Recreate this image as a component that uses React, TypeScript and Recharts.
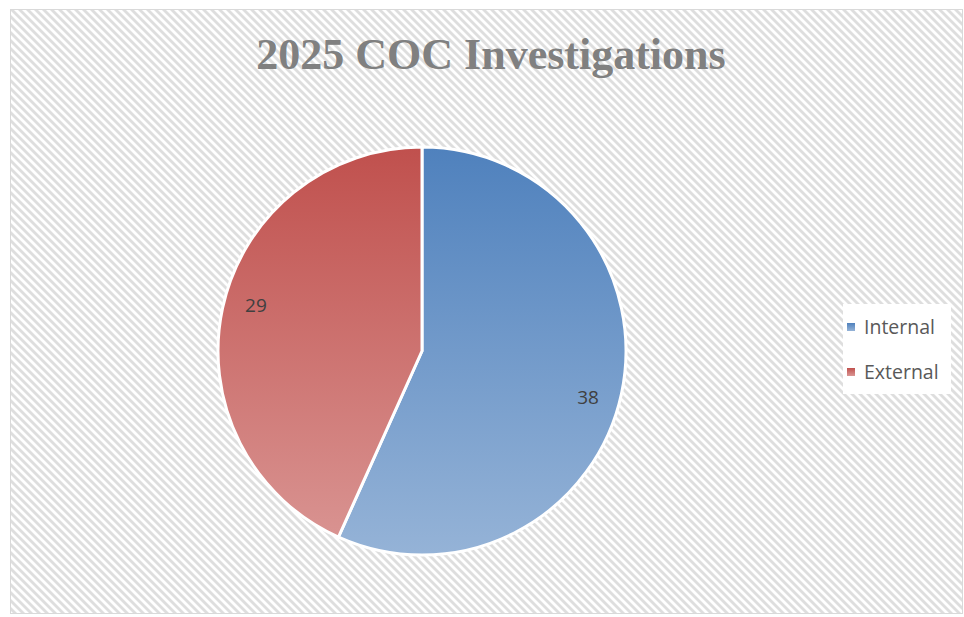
import React from "react";
import { PieChart, Pie, Cell, Legend } from "recharts";

const categories = ["Internal", "External"];
const values = [38, 29];
const topColors = ["#4F81BD", "#C0504D"];
const bottomColors = ["#95B3D7", "#DA9694"];
const title = "2025 COC Investigations";

const data = categories.map((name, i) => ({ name, value: values[i] }));

const RAD = Math.PI / 180;

const renderLabel = (props: any) => {
  const { cx, cy, midAngle, outerRadius, value } = props;
  const r = outerRadius * 0.845;
  const a = midAngle - 3.5;
  const x = cx + r * Math.cos(-a * RAD);
  const y = cy + r * Math.sin(-a * RAD);
  return (
    <text
      x={x}
      y={y}
      textAnchor="middle"
      dominantBaseline="central"
      fill="#404040"
      fontSize={19}
      fontFamily="'Open Sans', sans-serif"
    >
      {value}
    </text>
  );
};

const LegendContent = () => (
  <div
    style={{
      background: "#ffffff",
      width: 108,
      boxSizing: "border-box",
    }}
  >
    {categories.map((c, i) => (
      <div
        key={c}
        style={{
          display: "flex",
          alignItems: "center",
          height: 45,
          fontFamily: "'Open Sans', sans-serif",
          fontSize: 19.5,
          color: "#595959",
        }}
      >
        <span
          style={{
            display: "inline-block",
            width: 8,
            height: 8,
            marginLeft: 4,
            marginRight: 9,
            background: `linear-gradient(${topColors[i]}, ${bottomColors[i]})`,
          }}
        />
        {c}
      </div>
    ))}
  </div>
);

export default function App() {
  return (
    <div style={{ position: "absolute", left: 0, top: 0, width: 964, height: 617 }}>
      <svg width={964} height={617} style={{ position: "absolute", left: 0, top: 0 }}>
        <defs>
          <pattern id="bgStripes" x={0} y={0} width={8} height={8} patternUnits="userSpaceOnUse">
            <rect x={0} y={0} width={8} height={8} fill="#ffffff" />
            <polygon points="0,0 4,0 8,4 8,8" fill="#dedede" />
            <polygon points="0,4 4,8 0,8" fill="#dedede" />
          </pattern>
        </defs>
        <rect x={10.5} y={9.5} width={952} height={604} fill="url(#bgStripes)" stroke="#d9d9d9" strokeWidth={1} />
        <text
          x={491}
          y={69}
          textAnchor="middle"
          fontFamily="'Liberation Serif', serif"
          fontWeight="bold"
          fontSize={44}
          fill="#808080"
        >
          {title}
        </text>
      </svg>
      <div style={{ position: "absolute", left: 0, top: 0 }}>
        <PieChart width={964} height={617}>
          <defs>
            {categories.map((c, i) => (
              <linearGradient
                key={c}
                id={`grad${i}`}
                x1={0}
                y1={146}
                x2={0}
                y2={555}
                gradientUnits="userSpaceOnUse"
              >
                <stop offset="0%" stopColor={topColors[i]} />
                <stop offset="100%" stopColor={bottomColors[i]} />
              </linearGradient>
            ))}
          </defs>
          <Pie
            data={data}
            dataKey="value"
            nameKey="name"
            cx={417}
            cy={346}
            outerRadius={204}
            startAngle={90}
            endAngle={-270}
            stroke="#ffffff"
            strokeWidth={3}
            label={renderLabel}
            labelLine={false}
            isAnimationActive={false}
          >
            {data.map((d, i) => (
              <Cell key={d.name} fill={`url(#grad${i})`} />
            ))}
          </Pie>
          <Legend
            layout="vertical"
            align="right"
            verticalAlign="top"
            content={<LegendContent />}
            wrapperStyle={{ left: 843, top: 304, width: 108, right: "auto" }}
          />
        </PieChart>
      </div>
    </div>
  );
}
